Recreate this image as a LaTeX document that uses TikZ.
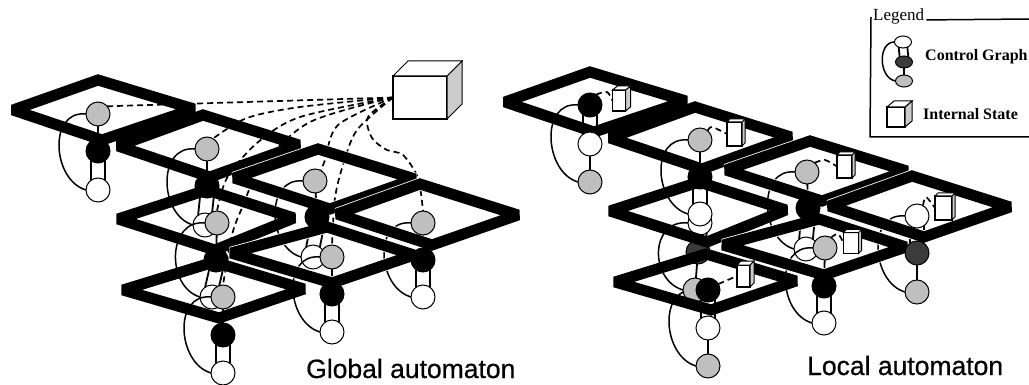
\documentclass[tikz,border=0pt]{standalone}
\usepackage{fontspec}
\setmainfont{Liberation Serif}
\newfontfamily\capfont[FakeBold=0.6]{Liberation Sans}
\pgfdeclarelayer{whitebelow}\pgfdeclarelayer{conn}\pgfdeclarelayer{under}\pgfdeclarelayer{diam}
\pgfsetlayers{whitebelow,conn,under,diam,main}
\definecolor{gfill}{gray}{0.75}
\definecolor{dfill}{gray}{0.23}
\definecolor{sidefill}{gray}{0.8}
\tikzset{
  stnode/.style={circle,draw=black,line width=1pt,minimum size=24pt,inner sep=0pt,outer sep=0pt},
  gr/.style={stnode,fill=gfill},
  bl/.style={stnode,fill=black},
  dk/.style={stnode,fill=dfill},
  wh/.style={stnode,fill=white},
  ctrl/.style={line width=1.5pt},
  dbl/.style={line width=1.8pt},
  sgl/.style={line width=1.8pt},
  dsh/.style={line width=1.7pt,dash pattern=on 6pt off 4pt},
  plate/.style={line width=11pt,line join=miter,miter limit=2.4},
  halo/.style={line width=12.6pt,line join=miter,miter limit=2.4,white},
  cubefront/.style={draw=black,fill=white,line width=1.2pt,inner sep=0pt,outer sep=0pt},
  legtext/.style={font=\fontsize{16}{18}\selectfont\bfseries,anchor=base west,inner sep=0pt},
  captxt/.style={font=\capfont\fontsize{26.5}{30}\selectfont,anchor=base west,inner sep=0pt},
  lg/.style={ellipse,draw=black,line width=1pt,minimum width=17pt,minimum height=12pt,inner sep=0pt,outer sep=0pt}
}
\usetikzlibrary{shapes.geometric}
% plate: dx dy L T R B
\newcommand\plateq[6]{\draw[plate,shift={(#1,#2)}] #3 -- #4 -- #5 -- #6 -- cycle;}
\newcommand\plateh[6]{\draw[halo,shift={(#1,#2)}] #3 -- #4 -- #5 -- #6 -- cycle;\draw[plate,shift={(#1,#2)}] #3 -- #4 -- #5 -- #6 -- cycle;}
\newcommand\cubeq[7]{%
  \node[cubefront,minimum width=#4pt,minimum height=#5pt] (#1) at (#2,#3) {};
  \draw[line width=1pt,fill=sidefill] (#1.north east) -- ++(#6,-#7) -- ++(0,#5) -- (#1.south east) -- cycle;
  \draw[line width=1pt,fill=white] (#1.north west) -- ++(#6,-#7) -- ++(#4,0) -- (#1.north east) -- cycle;
}
\newcommand\ctrlarc[2]{\draw[ctrl] (#1.west) .. controls +(-38,-4) and +(-34,-10) .. (#2.west);}
\newcommand\twin[2]{\draw[dbl] (#1.-125) -- (#2.125);\draw[dbl] (#1.-55) -- (#2.55);}
\begin{document}
\begin{tikzpicture}[x=1pt,y=-1pt]
\useasboundingbox (0,0) rectangle (1029,385);
% ---------- nodes hidden below
\begin{pgfonlayer}{whitebelow}
\node[wh] (c2) at (205,225) {};
\node[wh] (c3) at (313,257) {};
\node[wh] (c5) at (212,297) {};
\node[wh] (lw3) at (806,249) {};
\node[wh] (lw5) at (700,223) {};
\end{pgfonlayer}
\begin{pgfonlayer}{under}
\node[dk] (ld5) at (698,252) {};
\node[gr] (lg5) at (695,290) {};
\end{pgfonlayer}
% ---------- left nodes
\node[bl] (b2) at (207,186) {};
\node[bl] (b3) at (317,217) {};
\node[bl] (b5) at (216,260) {};
\node[bl] (lk3) at (808,208) {};
\node[wh] (c1) at (98,190) {};
\node[wh] (c4) at (423,297) {};
\node[wh] (c6) at (332,332) {};
\node[wh] (c7) at (223,373) {};
\node[bl] (b1) at (98,151) {};
\node[bl] (b4) at (423,260) {};
\node[bl] (b6) at (332,294) {};
\node[bl] (b7) at (223,335) {};
\node[gr] (a1) at (98,114) {};
\node[gr] (a2) at (207,149) {};
\node[gr] (a3) at (315,181) {};
\node[gr] (a4) at (423,223) {};
\node[gr] (a5) at (217,223) {};
\node[gr] (a6) at (332,257) {};
\node[gr] (a7) at (223,297) {};
% ---------- right nodes
\node[bl] (lk1) at (590,105) {};
\node[wh] (lw1) at (590,144) {};
\node[gr] (lg1) at (590,182) {};
\node[gr] (lg2) at (700,140) {};
\node[bl] (lk2) at (700,177) {};
\node[wh] (lw2) at (700,214) {};
\node[gr] (lg3) at (807,172) {};
\node[wh] (lw4) at (917,216) {};
\node[dk] (ld4) at (917,253) {};
\node[gr] (lg4) at (917,292) {};
\node[gr] (lg6) at (825,248) {};
\node[bl] (lk6) at (824,286) {};
\node[wh] (lw6) at (824,323) {};
\node[bl] (lk7) at (708,290) {};
\node[wh] (lw7) at (708,328) {};
\node[gr] (lg7) at (708,366) {};
% ---------- cubes
\cubeq{box}{420}{97.5}{54}{43}{15}{15}
\cubeq{s1}{619}{100.5}{13}{21}{5}{4}
\cubeq{s2}{734.5}{134}{15}{24}{3}{3}
\cubeq{s3}{844.5}{166.5}{15}{23}{3}{3}
\cubeq{s4}{943.5}{208}{17}{24}{3}{3}
\cubeq{s5}{743.5}{276}{13}{22}{4}{4}
\cubeq{s6}{851}{243}{15}{21}{3}{3}
% ---------- connectors
\begin{pgfonlayer}{conn}
\foreach \u/\v in {a1/c1,a2/c2,a3/c3,a4/c4,a5/c5,a6/c6,a7/c7,lk1/lg1,lg2/lw2,lg3/lw3,lw4/lg4,lw5/lg5,lg6/lw6,lk7/lg7}{\ctrlarc{\u}{\v}}
\foreach \u/\v in {a1/b1,a2/b2,a3/b3,a4/b4,a5/b5,a6/b6,a7/b7,lw1/lg1,lg2/lk2,lg3/lk3,ld4/lg4,ld5/lg5,lg6/lk6,lw7/lg7}{\draw[sgl] (\u) -- (\v);}
\foreach \u/\v in {b1/c1,b2/c2,b3/c3,b4/c4,b5/c5,b6/c6,b7/c7,lk1/lw1,lk2/lw2,lk3/lw3,lw4/ld4,lw5/ld5,lk6/lw6,lk7/lw7}{\twin{\u}{\v}}
% global dashed lines
\draw[dsh] (box.west) -- (a1.40);
\draw[dsh] plot[smooth] coordinates {(box.west) (300,107) (247,118) (a2.60)};
\draw[dsh] plot[smooth] coordinates {(box.west) (300,117) (257,143) (227,178) (a5.north)};
\draw[dsh] plot[smooth] coordinates {(box.west) (310,122) (262,165) (242,208) (232,235) (a7.north)};
\draw[dsh] plot[smooth] coordinates {(box.west) (338,125) (325,160) (a3.60)};
\draw[dsh] plot[smooth] coordinates {(box.west) (357,130) (343,165) (335,198) (a6.north)};
\draw[dsh] plot[smooth] coordinates {(box.west) (368,117) (372,138) (387,150) (403,155) (418,178) (a4.north)};
% local dashed lines
\draw[dsh] plot[smooth] coordinates {(lk1.60) (607,92) (s1.west)};
\draw[dsh] plot[smooth] coordinates {(lg2.50) (712,127) (s2.west)};
\draw[dsh] plot[smooth] coordinates {(lg3.50) (825,160) (s3.west)};
\draw[dsh] plot[smooth] coordinates {(lw4.60) (926,197) (s4.west)};
\draw[dsh] (lk7.30) -- (s5.west);
\draw[dsh] plot[smooth] coordinates {(lg6.60) (838,234) (s6.west)};
\end{pgfonlayer}
% ---------- plates
\begin{pgfonlayer}{diam}
\foreach \dx/\dy in {0/0,492/-8}{
\plateq{\dx}{\dy}{(13,110)}{(98,80)}{(194,109)}{(102,140)}
\plateq{\dx}{\dy}{(118,146)}{(203,115)}{(299,145)}{(210,177)}
\plateq{\dx}{\dy}{(118,219)}{(207,190)}{(294,218)}{(215,250)}
\plateq{\dx}{\dy}{(123,290)}{(214,262)}{(304,289)}{(219,318)}
\plateh{\dx}{\dy}{(234,178)}{(318,149)}{(415,179)}{(330,209)}
\plateh{\dx}{\dy}{(337,214)}{(420,184)}{(518,215)}{(432,245)}
\plateh{\dx}{\dy}{(231,253)}{(327,227)}{(414,255)}{(332,283)}
}
\end{pgfonlayer}
% ---------- captions
\node[captxt] (cap1) at (306,378) {Global automaton};
\node[captxt] (cap2) at (807,375) {Local automaton};
% ---------- legend
\node[font=\fontsize{17}{19}\selectfont,anchor=base west,inner sep=0pt] (legt) at (873,21) {Legend};
\draw[line width=1.5pt] (legt.east) ++(2,3) -- (1029,19);
\draw[line width=1.5pt] (871,17) -- (870,137) -- (1029,137);
\node[lg,fill=white] (lgw) at (903,42) {};
\node[lg,fill=dfill] (lgd) at (904,62) {};
\node[lg,fill=gfill] (lgg) at (904,81) {};
\draw[dbl] (lgw.-130) -- (lgd.130);\draw[dbl] (lgw.-50) -- (lgd.50);
\draw[sgl] (lgd) -- (lgg);
\draw[ctrl] (lgw.west) .. controls +(-17,0) and +(-17,-3) .. (lgg.west);
\node[legtext] (lgc) at (925,61) {Control Graph};
\cubeq{lgbox}{896}{117}{18}{20}{7}{6}
\node[legtext] (lgi) at (923,120) {Internal State};
\end{tikzpicture}
\end{document}
